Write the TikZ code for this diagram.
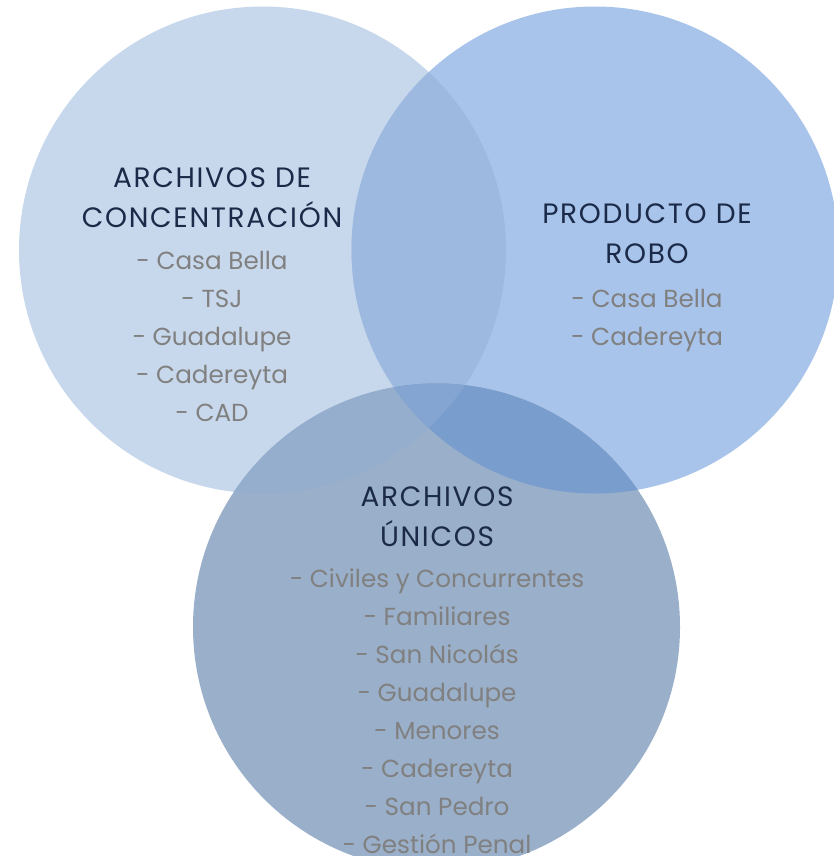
\documentclass[tikz,border=0pt]{standalone}
\usepackage{fontspec}
\setmainfont{Poppins}
\usetikzlibrary{positioning}

\definecolor{circL}{HTML}{C8D8EC}
\definecolor{circR}{HTML}{A9C4EA}
\definecolor{circB}{HTML}{9AAFC9}
\definecolor{circLR}{HTML}{9EB9E0}
\definecolor{circRB}{HTML}{799DCC}
\definecolor{circLB}{HTML}{95AECE}
\definecolor{circLRB}{HTML}{84A5D1}
\definecolor{titlenavy}{HTML}{1B2A48}
\definecolor{itemgray}{HTML}{808080}

\begin{document}
\begin{tikzpicture}[x=0.75pt, y=-0.75pt,
    title/.style={font=\fontsize{21}{30}\selectfont\addfontfeature{LetterSpace=6}, text=titlenavy, align=center, inner sep=0pt},
    items/.style={font=\fontsize{18.5}{28.5}\selectfont, text=itemgray, align=center, inner sep=0pt}]
  \useasboundingbox (0,0) rectangle (833,856);
  \def\rad{243.5}

  % circle centres
  \coordinate (concentracion) at (262.5,250);
  \coordinate (robo) at (595,250);
  \coordinate (unicos) at (436.5,627);

  % plain circles
  \fill[circL] (concentracion) circle (\rad);
  \fill[circR] (robo) circle (\rad);
  \fill[circB] (unicos) circle (\rad);

  % overlaps
  \begin{scope}
    \clip (concentracion) circle (\rad);
    \fill[circLR] (robo) circle (\rad);
    \fill[circLB] (unicos) circle (\rad);
  \end{scope}
  \begin{scope}
    \clip (robo) circle (\rad);
    \fill[circRB] (unicos) circle (\rad);
  \end{scope}
  \begin{scope}
    \clip (concentracion) circle (\rad);
    \clip (robo) circle (\rad);
    \fill[circLRB] (unicos) circle (\rad);
  \end{scope}

  % texts
  \node[title, anchor=base] (concTitle) at (212,227) {ARCHIVOS DE\\CONCENTRACIÓN};
  \node[items, anchor=base] (concList) at (212,421)
    {- Casa Bella\\- TSJ\\- Guadalupe\\- Cadereyta\\- CAD};

  \node[title, anchor=base] (roboTitle) at (647,263) {PRODUCTO DE\\ROBO};
  \node[items, anchor=base] (roboList) at (647,345)
    {- Casa Bella\\- Cadereyta};

  \node[title, anchor=base] (unicosTitle) at (437,546) {ARCHIVOS\\ÚNICOS};
  \node[items, anchor=base] (unicosList) at (437,853)
    {- Civiles y Concurrentes\\- Familiares\\- San Nicolás\\- Guadalupe\\- Menores\\- Cadereyta\\- San Pedro\\- Gestión Penal};
\end{tikzpicture}
\end{document}
